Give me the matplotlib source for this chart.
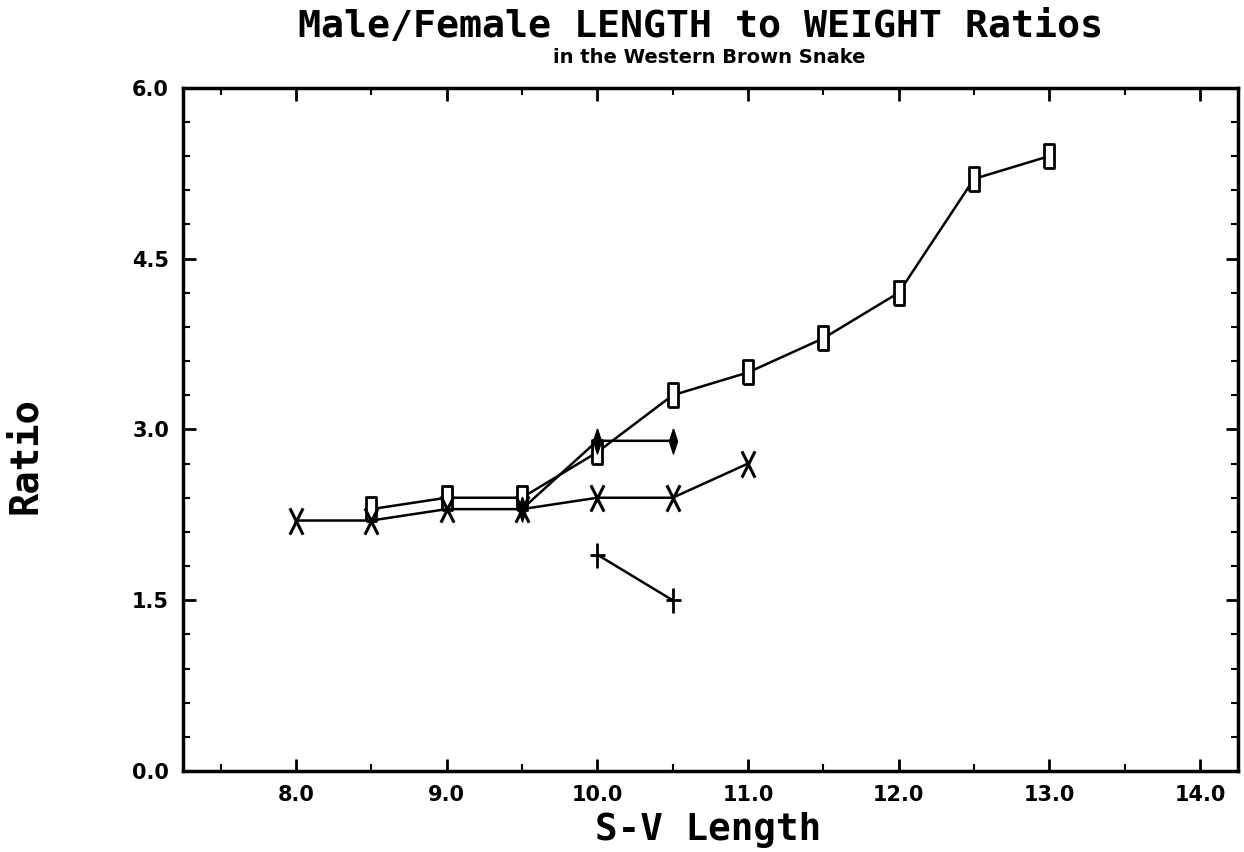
"""
Male/Female length to weight ratios, western brown snake
"""

import matplotlib.pyplot as plt
from matplotlib.path import Path
from matplotlib.ticker import MultipleLocator

# data
box_x = [8.5, 9.0, 9.5, 10.0, 10.5, 11.0, 11.5, 12.0, 12.5, 13.0]
box_y = [2.3, 2.4, 2.4, 2.8, 3.3, 3.5, 3.8, 4.2, 5.2, 5.4]

cross_x = [8.0, 8.5, 9.0, 9.5, 10.0, 10.5, 11.0]
cross_y = [2.2, 2.2, 2.3, 2.3, 2.4, 2.4, 2.7]

diam_x = [9.5, 10.0, 10.5]
diam_y = [2.3, 2.9, 2.9]

plus_x = [10.0, 10.5]
plus_y = [1.9, 1.5]

x_ticks = [8.0, 9.0, 10.0, 11.0, 12.0, 13.0, 14.0]
y_ticks = [0.0, 1.5, 3.0, 4.5, 6.0]

# tall narrow markers like the plotter used
M, L = Path.MOVETO, Path.LINETO
box_mk = Path([(-0.22, -0.5), (0.22, -0.5), (0.22, 0.5), (-0.22, 0.5), (-0.22, -0.5)])
cross_mk = Path([(-0.25, -0.5), (0.25, 0.5), (-0.25, 0.5), (0.25, -0.5)], [M, L, M, L])
diam_mk = Path([(0, 0.5), (0.16, 0), (0, -0.5), (-0.16, 0), (0, 0.5)])
plus_mk = Path([(0, -0.5), (0, 0.5), (-0.3, 0), (0.3, 0)], [M, L, M, L])

sans = ['DejaVu Sans']
mono = ['DejaVu Sans Mono']

fig = plt.figure(figsize=(12.44, 8.52), dpi=100)
ax = fig.add_axes([0.147, 0.095, 0.848, 0.802])

ax.plot(box_x, box_y, color='black', lw=1.8, marker=box_mk, ms=17,
        mfc='white', mec='black', mew=2)
ax.plot(cross_x, cross_y, color='black', lw=1.8, marker=cross_mk, ms=19,
        mfc='none', mec='black', mew=2.2)
ax.plot(diam_x, diam_y, color='black', lw=1.8, marker=diam_mk, ms=18,
        mfc='black', mec='black', mew=1)
ax.plot(plus_x, plus_y, color='black', lw=1.8, marker=plus_mk, ms=18,
        mfc='none', mec='black', mew=2)

ax.set_xlim(7.25, 14.25)
ax.set_ylim(0, 6.0)
ax.set_xticks(x_ticks)
ax.set_yticks(y_ticks)
ax.xaxis.set_minor_locator(MultipleLocator(0.5))
ax.yaxis.set_minor_locator(MultipleLocator(0.3))
ax.set_xticklabels(['%.1f' % v for v in x_ticks], family=sans,
                   fontweight='bold', fontsize=15)
ax.set_yticklabels(['%.1f' % v for v in y_ticks], family=sans,
                   fontweight='bold', fontsize=15)
ax.tick_params(which='major', direction='in', length=9, width=2,
               top=True, right=True, pad=10)
ax.tick_params(which='minor', direction='in', length=5, width=1.5,
               top=True, right=True)
for s in ax.spines.values():
    s.set_linewidth(2.5)

fig.text(0.563, 0.968, 'Male/Female LENGTH to WEIGHT Ratios', family=mono,
         fontweight='bold', fontsize=27.5, ha='center', va='center')
fig.text(0.57, 0.932, 'in the Western Brown Snake', family=sans,
         fontweight='bold', fontsize=14, ha='center', va='center')
fig.text(0.569, 0.026, 'S-V Length', family=mono, fontweight='bold',
         fontsize=27, ha='center', va='center')
fig.text(0.02, 0.465, 'Ratio', family=mono, fontweight='bold', fontsize=28,
         ha='center', va='center', rotation=90)

fig.savefig('out.png')
